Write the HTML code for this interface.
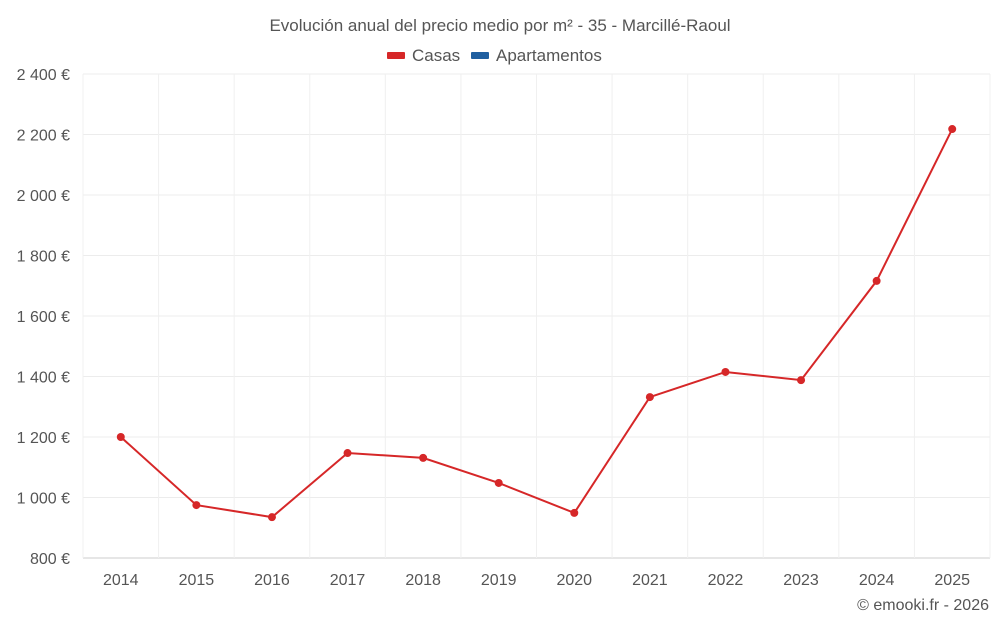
<!DOCTYPE html>
<html><head><meta charset="utf-8">
<style>
body{margin:0;background:#fff;font-family:"Liberation Sans",sans-serif;}
svg text{font-family:"Liberation Sans",sans-serif;fill:#555;}
</style></head>
<body>
<svg id="chart" width="1000" height="625">
<text x="500" y="31" text-anchor="middle" font-size="17">Evolución anual del precio medio por m² - 35 - Marcillé-Raoul</text>
<g>
<rect x="387" y="52" width="18" height="7" rx="1" fill="#d62728"/>
<text x="412" y="61" font-size="17">Casas</text>
<rect x="471" y="52" width="18" height="7" rx="1" fill="#1f5fa0"/>
<text x="496" y="61" font-size="17">Apartamentos</text>
</g>
<g id="grid"></g><g id="axes"></g><g id="series"></g>
<text x="989" y="610" text-anchor="end" font-size="16">© emooki.fr - 2026</text>
</svg>
<script>
const years=[2014,2015,2016,2017,2018,2019,2020,2021,2022,2023,2024,2025];
const casas=[1200,975,935,1147,1131,1048,949,1332,1415,1388,1716,2218];
const yTicks=[800,1000,1200,1400,1600,1800,2000,2200,2400];
const yTickLabels=["800 €","1 000 €","1 200 €","1 400 €","1 600 €","1 800 €","2 000 €","2 200 €","2 400 €"];
const NS="http://www.w3.org/2000/svg";
const L=83,R=990,T=74,B=558;
const y=v=>B-(v-800)/(2400-800)*(B-T);
const step=(R-L)/years.length;
const x=i=>L+step*(i+0.5);
function mk(tag,attrs,parent){const e=document.createElementNS(NS,tag);for(const k in attrs)e.setAttribute(k,attrs[k]);document.getElementById(parent).appendChild(e);return e;}
yTicks.forEach((t,i)=>{
 const g=mk('line',{x1:L,x2:R,y1:y(t),y2:y(t),stroke:t===800?'#ccc':'#ececec','stroke-width':1},'grid');
 
 
 const tx=mk('text',{x:70,y:y(t)+6,'text-anchor':'end','font-size':16},'axes');
 tx.textContent=yTickLabels[i];
 
 
});
for(let i=0;i<=years.length;i++){
 const gl=mk('line',{x1:L+step*i,x2:L+step*i,y1:T,y2:B,stroke:'#f0f0f0','stroke-width':1},'grid');
 
 
}
years.forEach((yr,i)=>{
 const tx=mk('text',{x:x(i),y:585,'text-anchor':'middle','font-size':16},'axes');
 tx.textContent=yr;
 
 
});
const line=mk('polyline',{points:casas.map((v,i)=>x(i)+','+y(v)).join(' '),fill:'none',stroke:'#d62728','stroke-width':2},'series');


casas.forEach((v,i)=>{
 const c=mk('circle',{cx:x(i),cy:y(v),r:4,fill:'#d62728'},'series');
 
 
});
</script>
</body></html>
